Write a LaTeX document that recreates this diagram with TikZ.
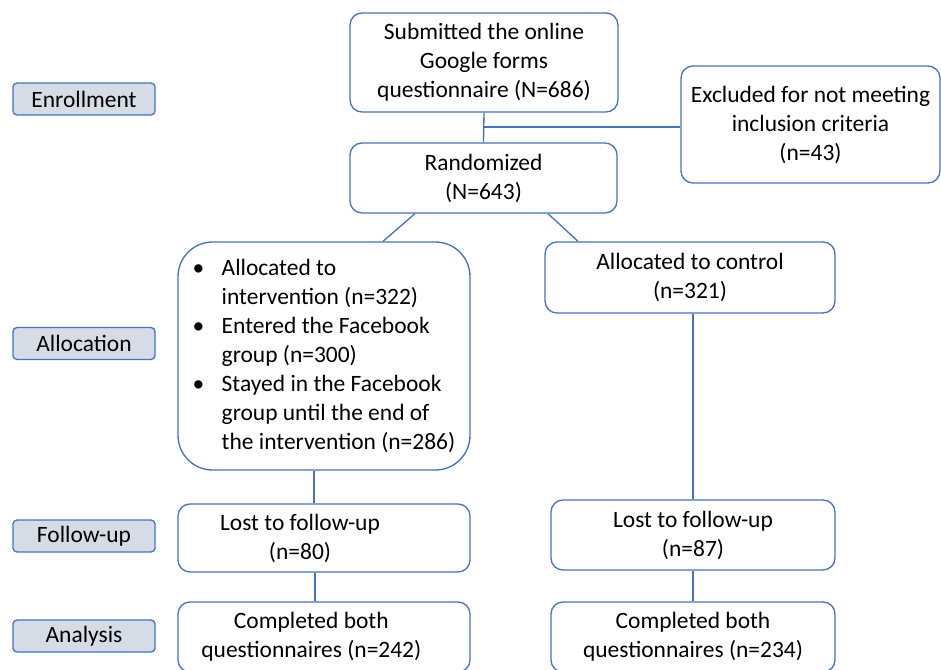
\documentclass[tikz,border=0pt]{standalone}
\usepackage{fontspec}
\setmainfont{Carlito}
\usepackage{xcolor}
\usetikzlibrary{positioning}
\definecolor{flowblue}{HTML}{4472C4}
\definecolor{stagefill}{HTML}{D6DCE5}
\tikzset{
  box/.style={draw=flowblue, line width=1pt, rounded corners=9pt, align=center, inner sep=0pt},
  stage/.style={draw=flowblue, fill=stagefill, line width=1pt, rounded corners=3pt,
    minimum width=106.5pt, minimum height=24pt, inner sep=0pt},
  link/.style={flowblue, line width=1pt}
}
\newcommand\bul{\makebox[21.75pt][l]{\textbullet}}
\newcommand\ind{\hspace*{21.75pt}}

\begin{document}
\begin{tikzpicture}[x=0.75pt, y=-0.75pt, font=\fontsize{17.6}{21.75}\selectfont]
	\useasboundingbox (0,0) rectangle (941,670);
	% stage labels
	\node[stage] (enr) at (84,99) {Enrollment};
	\node[stage] (alloc) at (84,343.5) {Allocation};
	\node[stage] (follow) at (84,536) {Follow-up};
	\node[stage] (anal) at (84,636) {Analysis};
	% enrollment
	\node[box, minimum width=201pt, minimum height=74.25pt] (sub) at (484,62.5) {Submitted the online\\Google forms\\questionnaire (N=686)};
	\node[box, minimum width=194.25pt, minimum height=87.75pt] (excl) at (810.5,124.5) {Excluded for not meeting\\inclusion criteria\\(n=43)};
	\node[box, minimum width=200.25pt, minimum height=52.5pt] (rand) at (483.5,178) {Randomized\\(N=643)};
	% allocation
	\node[box, rounded corners=26pt, minimum width=219pt, minimum height=171pt, align=left] (inter) at (324,356)
		{\bul Allocated to\\\ind intervention (n=322)\\\bul Entered the Facebook\\\ind group (n=300)\\\bul Stayed in the Facebook\\\ind group until the end of\\\ind the intervention (n=286)};
	\node[box, minimum width=217.5pt, minimum height=53.25pt] (ctrl) at (690,277.5) {Allocated to control\\(n=321)};
	% follow-up
	\node[box, minimum width=219pt, minimum height=51pt] (lostL) at (324,538) {Lost to follow-up\hspace*{36pt}\\(n=80)\hspace*{36pt}};
	\node[box, minimum width=213pt, minimum height=52.5pt] (lostR) at (693,535) {Lost to follow-up\\(n=87)};
	% analysis
	\node[box, minimum width=219pt, minimum height=52.5pt] (compL) at (324,637) {Completed both\hspace*{19pt}\\questionnaires (n=242)\hspace*{19pt}};
	\node[box, minimum width=213pt, minimum height=52.5pt] (compR) at (693,637) {Completed both\\questionnaires (n=234)};
	% connectors
	\draw[link] (sub.south) -- (rand.north);
	\coordinate (split) at (484,127);
	\draw[link] (split) -- (split -| excl.west);
	\draw[link] ([xshift=-51.4pt]rand.south) -- ([xshift=44.25pt]inter.north);
	\draw[link] ([xshift=48.4pt]rand.south) -- ([xshift=-84pt]ctrl.north);
	\draw[link] ([xshift=-7.5pt]inter.south) -- ([xshift=-7.5pt]lostL.north);
	\draw[link] (ctrl.south -| lostR.north) -- (lostR.north);
	\draw[link] ([xshift=-6.75pt]lostL.south) -- ([xshift=-6.75pt]compL.north);
	\draw[link] (lostR.south) -- (compR.north);
\end{tikzpicture}
\end{document}
